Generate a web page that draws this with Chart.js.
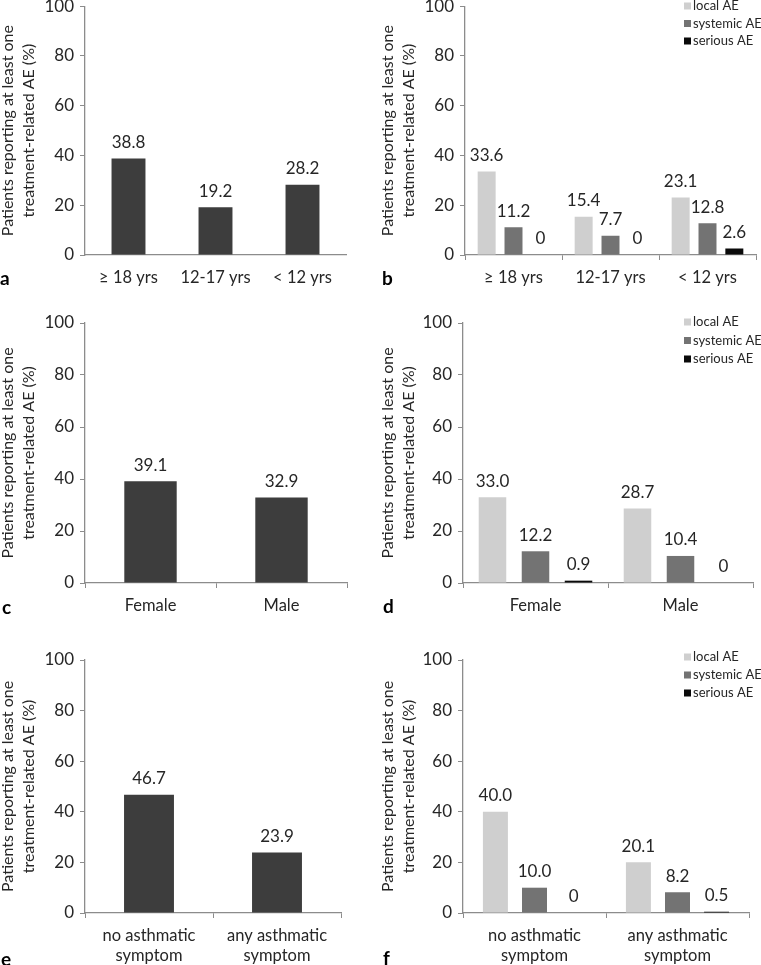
<!DOCTYPE html>
<html>
<head>
<meta charset="utf-8">
<script src="https://cdn.jsdelivr.net/npm/chart.js@4.4.1/dist/chart.umd.min.js"></script>
<style>
  body { margin: 0; background: #fff; }
  #page { position: relative; width: 761px; height: 965px; overflow: hidden; background: #fff; }
  .panel { position: absolute; }
  .letter { position: absolute; font-family: Lato, sans-serif; font-weight: bold; font-size: 19px; color: #000; line-height: 1; }
</style>
</head>
<body>
<div id="page">
  <div class="panel" id="pa"><canvas id="chartA"></canvas></div>
  <div class="panel" id="pb"><canvas id="chartB"></canvas></div>
  <div class="panel" id="pc"><canvas id="chartC"></canvas></div>
  <div class="panel" id="pd"><canvas id="chartD"></canvas></div>
  <div class="panel" id="pe"><canvas id="chartE"></canvas></div>
  <div class="panel" id="pf"><canvas id="chartF"></canvas></div>
  <div class="letter" style="left:0px;top:268px">a</div>
  <div class="letter" style="left:382px;top:268px">b</div>
  <div class="letter" style="left:2px;top:597px">c</div>
  <div class="letter" style="left:383px;top:596px">d</div>
  <div class="letter" style="left:1px;top:949px">e</div>
  <div class="letter" style="left:383px;top:948px">f</div>
</div>
<script>
// Values (% of patients with at least one treatment-related AE)
const seriesNames = ["local AE", "systemic AE", "serious AE"];

const ageGroups = ["≥ 18 yrs", "12-17 yrs", "< 12 yrs"];
const ageAny = [38.8, 19.2, 28.2];
const ageLocal = [33.6, 15.4, 23.1];
const ageSystemic = [11.2, 7.7, 12.8];
const ageSerious = [0, 0, 2.6];

const sexGroups = ["Female", "Male"];
const sexAny = [39.1, 32.9];
const sexLocal = [33.0, 28.7];
const sexSystemic = [12.2, 10.4];
const sexSerious = [0.9, 0];

const asthmaGroups = [["no asthmatic", "symptom"], ["any asthmatic", "symptom"]];
const asthmaAny = [46.7, 23.9];
const asthmaLocal = [40.0, 20.1];
const asthmaSystemic = [10.0, 8.2];
const asthmaSerious = [0, 0.5];

const yMax = 100;
const yStep = 20;
const yTitle = ["Patients reporting at least one", "treatment-related AE (%)"];

const FONT = "Lato, 'Open Sans', sans-serif";
const anyColor = "#3d3d3d";
const seriesColors = ["#cfcfcf", "#737373", "#0a0a0a"];
const axisColor = "#8c8c8c";

// value labels above each bar
const valueLabels = {
    id: "valueLabels",
    afterDatasetsDraw(chart) {
        const ctx = chart.ctx;
        ctx.save();
        ctx.font = "17px " + FONT;
        ctx.fillStyle = "#262626";
        ctx.textAlign = "center";
        ctx.textBaseline = "middle";
        chart.data.datasets.forEach((ds, i) => {
            chart.getDatasetMeta(i).data.forEach((bar, j) => {
                const v = ds.data[j];
                const txt = v === 0 ? "0" : v.toFixed(1);
                ctx.fillText(txt, bar.x, bar.y - 16);
            });
        });
        ctx.restore();
    }
};

// small legend in the top right corner
const cornerLegend = {
    id: "cornerLegend",
    afterDraw(chart, args, opts) {
        if (!opts.show) return;
        const ctx = chart.ctx;
        ctx.save();
        ctx.font = "13px " + FONT;
        ctx.textBaseline = "middle";
        ctx.textAlign = "left";
        chart.data.datasets.forEach((ds, i) => {
            const y = opts.y + i * opts.gap;
            ctx.fillStyle = ds.backgroundColor;
            ctx.fillRect(opts.x, y - 3.5, 7, 7);
            ctx.fillStyle = "#262626";
            ctx.fillText(ds.label, opts.x + 9, y);
        });
        ctx.restore();
    }
};

const makeChart = (canvasId, panel, labels, datasets, area, bars, legend) => {
    const div = document.getElementById(canvasId).parentNode;
    div.style.left = panel.x + "px";
    div.style.top = panel.y + "px";
    div.style.width = panel.w + "px";
    div.style.height = panel.h + "px";

    const config = {
        type: "bar",
        data: { labels, datasets },
        options: {
            responsive: true,
            maintainAspectRatio: false,
            animation: false,
            events: [],
            layout: { padding: { left: 0, top: area.top, right: panel.w - area.right, bottom: 0 } },
            datasets: { bar: { categoryPercentage: bars.cat, barPercentage: bars.bar } },
            plugins: {
                legend: { display: false },
                tooltip: { enabled: false },
                cornerLegend: legend || { show: false }
            },
            scales: {
                x: {
                    offset: true,
                    border: { color: axisColor, width: 1.3 },
                    grid: {
                        display: true,
                        offset: true,
                        drawOnChartArea: false,
                        drawTicks: true,
                        tickLength: 5,
                        color: bars.xTicks ? axisColor : "rgba(0,0,0,0)"
                    },
                    ticks: {
                        color: "#262626",
                        font: { family: FONT, size: 16.5, lineHeight: 1.25 },
                        padding: 7,
                        maxRotation: 0,
                        autoSkip: false
                    },
                    afterFit: (scale) => { scale.height = panel.h - area.bottom; }
                },
                y: {
                    min: 0,
                    max: yMax,
                    border: { color: axisColor, width: 1.3 },
                    grid: {
                        display: true,
                        drawOnChartArea: false,
                        drawTicks: true,
                        tickLength: 5,
                        color: axisColor
                    },
                    ticks: {
                        stepSize: yStep,
                        color: "#262626",
                        font: { family: FONT, size: 17 },
                        padding: 6
                    },
                    title: {
                        display: true,
                        text: yTitle,
                        color: "#262626",
                        font: { family: FONT, size: 16, lineHeight: 1.33 },
                        padding: { top: -3, bottom: 0 }
                    },
                    afterFit: (scale) => { scale.width = area.left; }
                }
            }
        },
        plugins: [valueLabels, cornerLegend]
    };
    return new Chart(document.getElementById(canvasId), config);
};

const single = (data) => [{ label: "any AE", data, backgroundColor: anyColor, borderWidth: 0 }];
const grouped = (a, b, c) => [a, b, c].map((data, i) => ({
    label: seriesNames[i],
    data,
    backgroundColor: seriesColors[i],
    borderWidth: 0
}));

makeChart("chartA", { x: 0, y: -10, w: 380, h: 310 }, ageGroups, single(ageAny),
    { left: 85, right: 346, top: 15, bottom: 265 }, { cat: 1, bar: 0.39, xTicks: false });

makeChart("chartB", { x: 380, y: -10, w: 381, h: 310 }, ageGroups, grouped(ageLocal, ageSystemic, ageSerious),
    { left: 85, right: 376, top: 15, bottom: 265 }, { cat: 0.83, bar: 0.67, xTicks: true },
    { show: true, x: 304, y: 16, gap: 17.5 });

makeChart("chartC", { x: 0, y: 300, w: 380, h: 330 }, sexGroups, single(sexAny),
    { left: 85, right: 347, top: 23, bottom: 283 }, { cat: 1, bar: 0.4, xTicks: true });

makeChart("chartD", { x: 380, y: 300, w: 381, h: 330 }, sexGroups, grouped(sexLocal, sexSystemic, sexSerious),
    { left: 83, right: 373, top: 23, bottom: 283 }, { cat: 0.89, bar: 0.64, xTicks: true },
    { show: true, x: 304, y: 22, gap: 18.5 });

makeChart("chartE", { x: 0, y: 635, w: 380, h: 330 }, asthmaGroups, single(asthmaAny),
    { left: 85, right: 341, top: 25, bottom: 278 }, { cat: 1, bar: 0.39, xTicks: true });

makeChart("chartF", { x: 380, y: 635, w: 381, h: 330 }, asthmaGroups, grouped(asthmaLocal, asthmaSystemic, asthmaSerious),
    { left: 83, right: 369, top: 25, bottom: 278 }, { cat: 0.82, bar: 0.64, xTicks: true },
    { show: true, x: 304, y: 22, gap: 18 });
</script>
</body>
</html>
